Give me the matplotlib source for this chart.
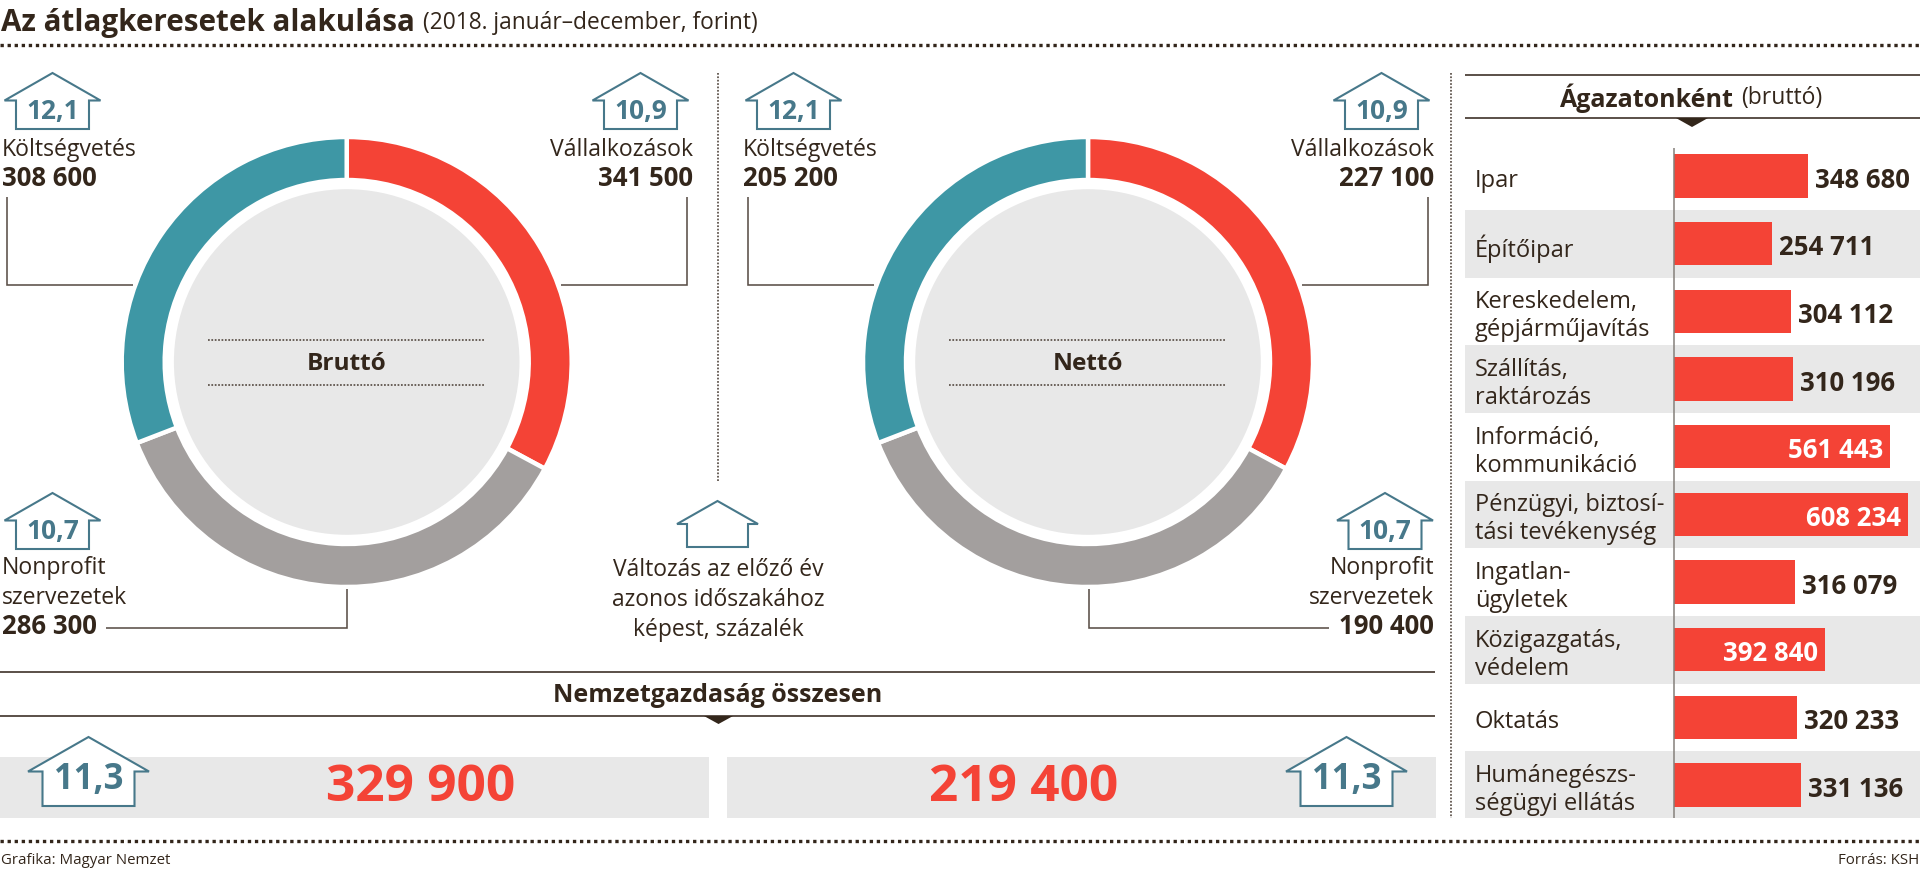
import matplotlib
matplotlib.use('Agg')
import matplotlib.pyplot as plt
from matplotlib.patches import Polygon, Circle, Rectangle

# ---------- data ----------
title_main = 'Az átlagkeresetek alakulása'
title_sub = '(2018. január–december, forint)'
segment_names = ['Vállalkozások', 'Nonprofit\nszervezetek', 'Költségvetés']
segment_shares = [118.3, 130.6, 111.1]      # arc share read from the ring (degrees)
brutto_values = ['341 500', '286 300', '308 600']
netto_values = ['227 100', '190 400', '205 200']
changes = ['10,9', '10,7', '12,1']
total_change = '11,3'
total_brutto = '329 900'
total_netto = '219 400'
sectors = ['Ipar', 'Építőipar', 'Kereskedelem,\ngépjárműjavítás', 'Szállítás,\nraktározás',
           'Információ,\nkommunikáció', 'Pénzügyi, biztosí-\ntási tevékenység', 'Ingatlan-\nügyletek',
           'Közigazgatás,\nvédelem', 'Oktatás', 'Humánegészs-\nségügyi ellátás']
sector_values = [348680, 254711, 304112, 310196, 561443, 608234, 316079, 392840, 320233, 331136]
inside_label = [False, False, False, False, True, True, False, True, False, False]

# ---------- style ----------
W, H = 1920, 869
RED, TEAL, GREY, LIGHT = '#F44336', '#3E97A5', '#A39F9E', '#E8E8E8'
INK, HOUSE, RULE = '#33261B', '#47788A', '#5A4F47'
SEG_COLORS = [RED, GREY, TEAL]
FS_REG, FS_NUM, FS_HEAD = 16.6, 18.5, 18.0
plt.rcParams['font.family'] = ['Open Sans', 'DejaVu Sans']

fig = plt.figure(figsize=(W / 100, H / 100), dpi=100, facecolor='white')


def rect(x, y, w, h):
    return [x / W, 1 - (y + h) / H, w / W, h / H]


# ---------- sector bars ----------
PX_PER_UNIT = 134 / 348680
BASE_X, BAR_LEFT = 1674, 1465
ROW0, PITCH = 176.0, 67.67
TOP, BOTTOM = 148, 818
axb = fig.add_axes(rect(BAR_LEFT, TOP, W - BAR_LEFT, BOTTOM - TOP), zorder=1)
axb.set_xlim((BAR_LEFT - BASE_X) / PX_PER_UNIT, (W - BASE_X) / PX_PER_UNIT)
axb.set_ylim((BOTTOM - ROW0) / PITCH, (TOP - ROW0) / PITCH)
axb.axis('off')
rows = list(range(len(sectors)))
for i in rows[1::2]:
    axb.axhspan(i - 0.5, i + 0.5, color=LIGHT, lw=0, zorder=0)
axb.barh(rows, sector_values, height=0.643, color=RED, lw=0, zorder=2)
axb.axvline(0, color='#85807B', lw=1.1, zorder=3)
dy_name = 5 / PITCH
dy_val = 4 / PITCH
for i, name, v, ins in zip(rows, sectors, sector_values, inside_label):
    axb.text((1475 - BASE_X) / PX_PER_UNIT, i + dy_name, name, ha='left', va='center', fontsize=17,
             color=INK, linespacing=1.22)
    lab = f'{v:,}'.replace(',', ' ')
    if ins:
        axb.text(v - 7 / PX_PER_UNIT, i + dy_val, lab, ha='right', va='center', fontsize=FS_NUM,
                 fontweight='bold', color='white', zorder=4)
    else:
        axb.text(v + 7 / PX_PER_UNIT, i + dy_val, lab, ha='left', va='center', fontsize=FS_NUM,
                 fontweight='bold', color=INK, zorder=4)

# ---------- donuts ----------
R = 225.0
centers = [346.7, 1088.0]
CY = 362.0
for cx in centers:
    axd = fig.add_axes(rect(cx - R * 1.02, CY - R * 1.02, 2.04 * R, 2.04 * R), zorder=2)
    axd.pie(segment_shares, colors=SEG_COLORS, startangle=90, counterclock=False, radius=1,
            wedgeprops=dict(width=43.0 / R, edgecolor='white', linewidth=3.2))
    axd.add_patch(Circle((0, 0), 172.8 / R, color=LIGHT, lw=0))
    axd.set_xlim(-1.02, 1.02)
    axd.set_ylim(-1.02, 1.02)
    axd.set_aspect('equal')
    axd.axis('off')

# ---------- overlay in picture coordinates ----------
ax = fig.add_axes([0, 0, 1, 1], zorder=3)
ax.set_xlim(0, W)
ax.set_ylim(H, 0)
ax.axis('off')
ax.patch.set_alpha(0)


def house(cx, apex_y, half_eave, half_wall, h_roof, h_total, label=None, size=19, lab_dy=11):
    yr = apex_y + h_roof
    yb = apex_y + h_total
    pts = [(cx - half_wall, yb), (cx - half_wall, yr), (cx - half_eave, yr), (cx, apex_y),
           (cx + half_eave, yr), (cx + half_wall, yr), (cx + half_wall, yb)]
    ax.add_patch(Polygon(pts, closed=True, fc='white', ec=HOUSE, lw=1.5, joinstyle='miter', zorder=5))
    if label:
        ax.text(cx, yr + lab_dy, label, ha='center', va='center', fontsize=size,
                fontweight='bold', color=HOUSE, zorder=6)


def dotted(x0, y0, x1, y1, lw=2.4, pat=(1.0, 1.12), color=INK):
    ax.plot([x0, x1], [y0, y1], color=color, lw=lw, ls=(0, pat), dash_capstyle='butt', zorder=4)


def rule(xs, ys, lw=1.15, color=RULE):
    ax.plot(xs, ys, color=color, lw=lw, solid_capstyle='butt', solid_joinstyle='miter', zorder=4)


FINE = dict(lw=1.25, pat=(1.0, 0.95), color='#5A4F47')

# title and outer rules
ax.text(1, 23, title_main, ha='left', va='center', fontsize=21.3, fontweight='bold', color=INK)
ax.text(423, 23, title_sub, ha='left', va='center', fontsize=16.4, color=INK)
dotted(0, 45, W, 45)
dotted(0, 841, W, 841)
ax.text(1, 860, 'Grafika: Magyar Nemzet', ha='left', va='center', fontsize=10.8, color=INK)
ax.text(1919, 860, 'Forrás: KSH', ha='right', va='center', fontsize=10.8, color=INK)
dotted(718, 73, 718, 482, **FINE)
dotted(1451, 73, 1451, 818, **FINE)

# donut annotations
for cx, dx, vals, word in zip(centers, [0, 741], [brutto_values, netto_values], ['Bruttó', 'Nettó']):
    dotted(cx - 139, 340, cx + 138, 340, **FINE)
    dotted(cx - 139, 384.5, cx + 138, 384.5, **FINE)
    ax.text(cx, 364, word, ha='center', va='center', fontsize=17.6, fontweight='bold', color=INK)

    # Vállalkozások (upper right)
    house(640.5 + dx, 73, 48, 36.5, 27.5, 56, changes[0])
    ax.text(693 + dx, 150, segment_names[0], ha='right', va='center', fontsize=FS_REG, color=INK)
    ax.text(693 + dx, 179, vals[0], ha='right', va='center', fontsize=FS_NUM, fontweight='bold', color=INK)
    rule([687 + dx, 687 + dx, 561 + dx], [197, 285, 285])

    # Költségvetés (upper left)
    house(52.5 + dx, 73, 48, 36.5, 27.5, 56, changes[2])
    ax.text(2 + dx, 150, segment_names[2], ha='left', va='center', fontsize=FS_REG, color=INK)
    ax.text(2 + dx, 179, vals[2], ha='left', va='center', fontsize=FS_NUM, fontweight='bold', color=INK)
    rule([7 + dx, 7 + dx, 133 + dx], [197, 285, 285])

# Nonprofit, gross (lower left)
house(52.5, 493, 48, 36.5, 27.5, 56, changes[1])
ax.text(2, 583, segment_names[1], ha='left', va='center', fontsize=FS_REG, color=INK, linespacing=1.34)
ax.text(2, 627, brutto_values[1], ha='left', va='center', fontsize=FS_NUM, fontweight='bold', color=INK)
rule([346.7, 346.7, 106], [589, 628, 628])

# Nonprofit, net (lower right)
house(1385, 493, 48, 36.5, 27.5, 56, changes[1])
ax.text(1434, 583, segment_names[1], ha='right', va='center', fontsize=FS_REG, color=INK, linespacing=1.34,
        multialignment='right')
ax.text(1434, 627, netto_values[1], ha='right', va='center', fontsize=FS_NUM, fontweight='bold', color=INK)
rule([1088.5, 1088.5, 1329], [589, 628, 628])

# legend house
house(717.5, 501, 40.5, 30.5, 23, 46)
ax.text(718, 600, 'Változás az előző év\nazonos időszakához\nképest, százalék', ha='center', va='center',
        fontsize=16.5, color=INK, linespacing=1.35)

# total section
rule([0, 1435], [672, 672], lw=1.4)
rule([0, 1435], [716, 716], lw=1.4)
ax.add_patch(Polygon([(704, 716), (733, 716), (718.5, 724)], closed=True, fc=INK, lw=0, zorder=5))
ax.text(718, 695, 'Nemzetgazdaság összesen', ha='center', va='center', fontsize=FS_HEAD, fontweight='bold', color=INK)
ax.add_patch(Rectangle((0, 757), 709, 61, fc=LIGHT, lw=0, zorder=1))
ax.add_patch(Rectangle((726.5, 757), 709.5, 61, fc=LIGHT, lw=0, zorder=1))
ax.text(421, 788, total_brutto, ha='center', va='center', fontsize=37, fontweight='bold', color=RED, zorder=6)
ax.text(1024, 788, total_netto, ha='center', va='center', fontsize=37, fontweight='bold', color=RED, zorder=6)
house(88.5, 737, 60.5, 46, 34.5, 69, total_change, size=25, lab_dy=8)
house(1346.5, 737, 60.5, 46, 34.5, 69, total_change, size=25, lab_dy=8)

# sector header
rule([1465, W], [75, 75], lw=1.4)
rule([1465, W], [118, 118], lw=1.4)
ax.add_patch(Polygon([(1676, 118), (1708, 118), (1692, 127)], closed=True, fc=INK, lw=0, zorder=5))
ax.text(1734, 98, 'Ágazatonként', ha='right', va='center', fontsize=FS_HEAD, fontweight='bold', color=INK)
ax.text(1741, 98, '(bruttó)', ha='left', va='center', fontsize=16.5, color=INK)

fig.savefig('out.png', dpi=100, facecolor='white')
